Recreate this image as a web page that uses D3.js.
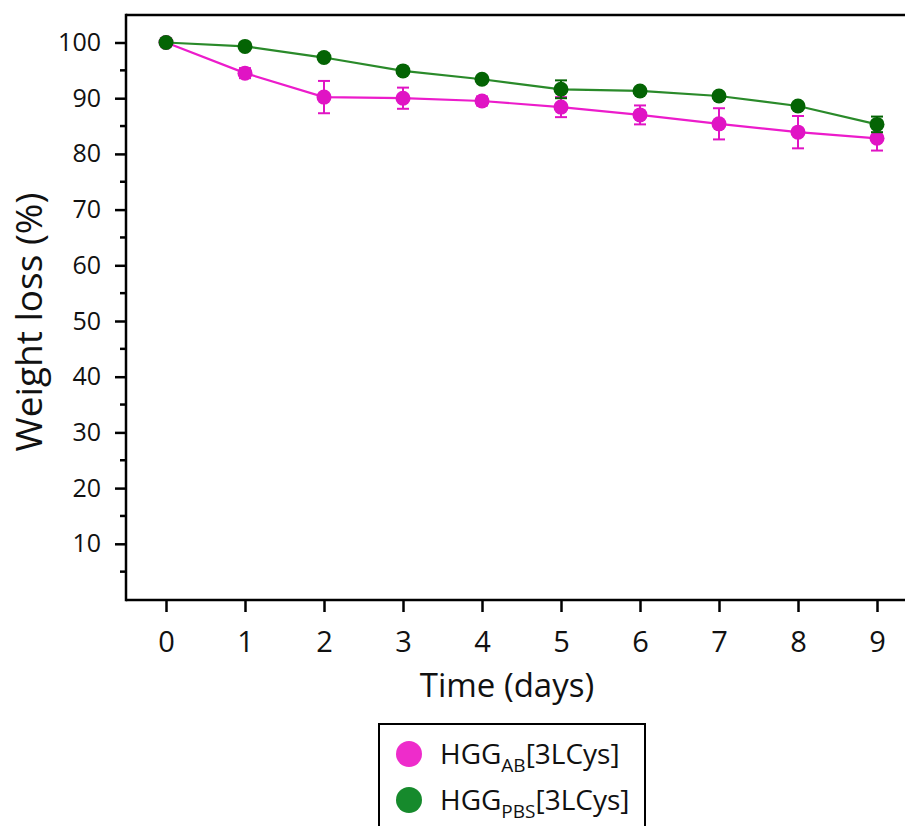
<!DOCTYPE html>
<html>
<head>
<meta charset="UTF-8">
<style>
  body { margin: 0; background: #fff; }
  svg { display: block; font-family: "Open Sans", sans-serif; }
</style>
</head>
<body>
<svg></svg>
<script src="https://cdn.jsdelivr.net/npm/d3@7"></script>
<script>
// data
const days = [0, 1, 2, 3, 4, 5, 6, 7, 8, 9];
const abMean = [100, 94.5, 90.2, 90.0, 89.5, 88.4, 87.0, 85.4, 83.9, 82.8];
const abErr  = [0.3, 0.9, 2.9, 1.9, 0.8, 1.8, 1.7, 2.8, 2.9, 2.2];
const pbsMean = [100, 99.3, 97.3, 94.9, 93.4, 91.6, 91.3, 90.4, 88.6, 85.3];
const pbsErr  = [0.3, 0.5, 0.5, 0.5, 0.5, 1.6, 0.5, 0.5, 0.5, 1.4];
const yTicks = [10, 20, 30, 40, 50, 60, 70, 80, 90, 100];

const width = 905, height = 826;
const svg = d3.select("svg").attr("width", width).attr("height", height);

let x = d3.scaleLinear().domain([0, 9]).range([166, 877]);
let y = d3.scaleLinear().domain([0, 100]).range([599.5, 42.5]);

const plotLeft = 126, plotTop = 15, plotBottom = 600;

// frame: top line, left + bottom axis
svg.append("line").attr("x1", plotLeft).attr("x2", width).attr("y1", plotTop).attr("y2", plotTop)
    .attr("stroke", "#000").attr("stroke-width", 2.5);

// y axis
let yAxis = svg.append("g").attr("transform", `translate(${plotLeft},0)`)
    .call(d3.axisLeft(y).tickValues(yTicks).tickSize(11).tickSizeOuter(0).tickPadding(14));
yAxis.select(".domain").remove();
yAxis.selectAll("line").attr("stroke-width", 2.5);
yAxis.selectAll("text").attr("font-size", 25).attr("font-family", "Open Sans").attr("fill", "#111");
// minor ticks
svg.append("g").selectAll("line")
    .data(d3.range(5, 101, 10))
    .join("line")
    .attr("x1", plotLeft - 6).attr("x2", plotLeft)
    .attr("y1", d => y(d)).attr("y2", d => y(d))
    .attr("stroke", "#000").attr("stroke-width", 2.5);
svg.append("line").attr("x1", plotLeft).attr("x2", plotLeft).attr("y1", plotTop - 1.2).attr("y2", plotBottom + 1.2)
    .attr("stroke", "#000").attr("stroke-width", 2.5);

// x axis
let xAxis = svg.append("g").attr("transform", `translate(0,${plotBottom})`)
    .call(d3.axisBottom(x).tickValues(days).tickFormat(d3.format("d")).tickSize(12).tickPadding(19));
xAxis.select(".domain").remove();
xAxis.selectAll("line").attr("stroke-width", 2.5);
xAxis.selectAll("text").attr("font-size", 29).attr("font-family", "Open Sans").attr("fill", "#111");
svg.append("line").attr("x1", plotLeft).attr("x2", width).attr("y1", plotBottom).attr("y2", plotBottom)
    .attr("stroke", "#000").attr("stroke-width", 2.5);

// axis titles
svg.append("text").attr("x", 507).attr("y", 697).attr("text-anchor", "middle")
    .attr("font-size", 33).attr("fill", "#111").text("Time (days)");
svg.append("text").attr("transform", "translate(42,322) rotate(-90)").attr("text-anchor", "middle")
    .attr("font-size", 37).attr("fill", "#111").text("Weight loss (%)");

// series
const series = [
    { mean: abMean, err: abErr, line: "#ec1ccb", dot: "#e014c4" },
    { mean: pbsMean, err: pbsErr, line: "#2a8a2a", dot: "#046404" }
];
let line = d3.line().x((d, i) => x(days[i])).y(d => y(d));

series.forEach(s => {
    let g = svg.append("g");
    g.append("path").datum(s.mean).attr("d", line)
        .attr("fill", "none").attr("stroke", s.line).attr("stroke-width", 2.2);
    let eb = g.selectAll(".eb").data(s.mean).join("g");
    eb.append("line")
        .attr("x1", (d, i) => x(days[i])).attr("x2", (d, i) => x(days[i]))
        .attr("y1", (d, i) => y(d + s.err[i])).attr("y2", (d, i) => y(d - s.err[i]))
        .attr("stroke", s.dot).attr("stroke-width", 2);
    [1, -1].forEach(sg => {
        eb.append("line")
            .attr("x1", (d, i) => x(days[i]) - 6).attr("x2", (d, i) => x(days[i]) + 6)
            .attr("y1", (d, i) => y(d + sg * s.err[i])).attr("y2", (d, i) => y(d + sg * s.err[i]))
            .attr("stroke", s.dot).attr("stroke-width", 2);
    });
    eb.append("circle")
        .attr("cx", (d, i) => x(days[i])).attr("cy", d => y(d)).attr("r", 7.5)
        .attr("fill", s.dot);
});

// legend
const legendItems = [
    { base: "HGG", sub: "AB", rest: "[3LCys]", color: "#ee2ccb" },
    { base: "HGG", sub: "PBS", rest: "[3LCys]", color: "#168a2c" }
];
svg.append("rect").attr("x", 379).attr("y", 724).attr("width", 266).attr("height", 120)
    .attr("fill", "#fff").attr("stroke", "#000").attr("stroke-width", 2);
let li = svg.append("g").selectAll("g").data(legendItems).join("g")
    .attr("transform", (d, i) => `translate(0,${754 + i * 46})`);
li.append("circle").attr("cx", 409).attr("cy", 0).attr("r", 13).attr("fill", d => d.color);
let lt = li.append("text").attr("x", 440).attr("y", 10).attr("font-size", 28).attr("fill", "#111");
lt.append("tspan").text(d => d.base);
lt.append("tspan").attr("dy", 8).attr("font-size", 19).text(d => d.sub);
lt.append("tspan").attr("dy", -8).text(d => d.rest);
</script>
</body>
</html>
